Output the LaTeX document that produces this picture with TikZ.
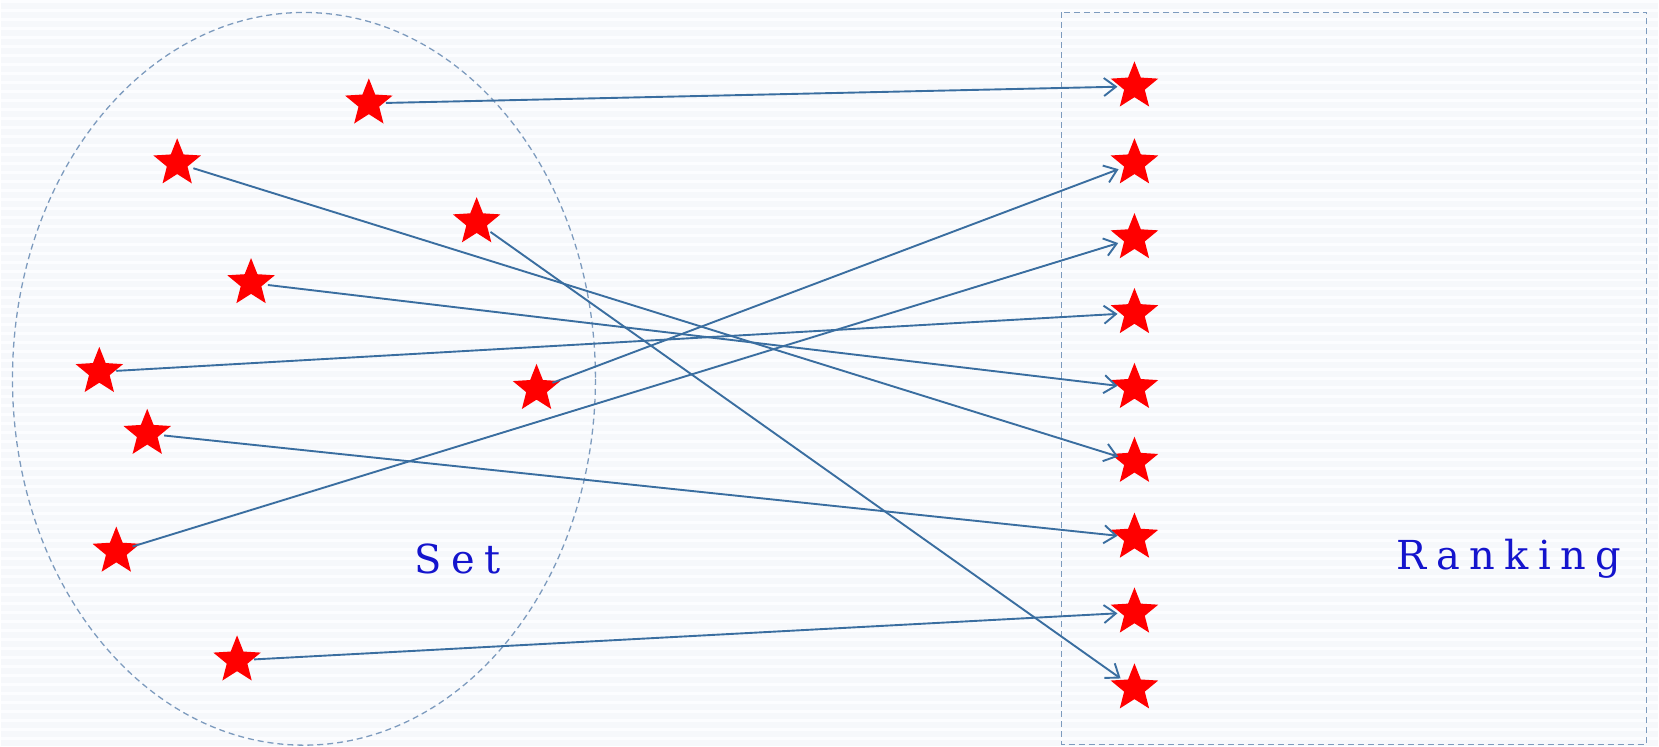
\documentclass[tikz,border=0pt]{standalone}
\usepackage{fontspec}
\setmainfont{DejaVu Serif}
\usetikzlibrary{shapes.geometric,arrows.meta}
\definecolor{bgblue}{RGB}{246,248,251}
\definecolor{stripe}{RGB}{252,253,255}
\definecolor{linkblue}{RGB}{58,110,160}
\definecolor{frameblue}{RGB}{125,155,190}
\definecolor{labelblue}{RGB}{20,20,205}
\tikzset{
  item/.style={star, star points=5, star point ratio=2.3, fill=red, draw=none,
    minimum size=50pt, inner sep=0pt},
  link/.style={draw=linkblue, line width=1.9pt,
    -{Straight Barb[length=12pt,width=18pt,line width=1.9pt]},
    shorten <=17pt, shorten >=17pt},
  frame/.style={draw=frameblue, line width=1.3pt, dash pattern=on 6pt off 4pt},
  caption/.style={text=labelblue, font=\fontsize{40}{40}\selectfont\addfontfeatures{LetterSpace=23}}
}
\begin{document}
\begin{tikzpicture}[x=1pt,y=-1pt]
  % canvas
  \fill[bgblue] (0,0) rectangle (1659,746);
  \foreach \y in {0,9,...,746} \draw[stripe, line width=3pt] (0,\y) -- (1659,\y);
  \useasboundingbox (0,0) rectangle (1659,746);

  % the set and the ranking
  \draw[frame] (303,378) ellipse [x radius=292, y radius=367];
  \draw[frame] (1062,11) rectangle (1648,744);

  % unordered items
  \node[item] (a) at (368,102) {};
  \node[item] (b) at (176,162) {};
  \node[item] (c) at (476,221) {};
  \node[item] (d) at (250,282) {};
  \node[item] (e) at (98,371) {};
  \node[item] (f) at (536,388) {};
  \node[item] (g) at (146,433) {};
  \node[item] (h) at (115,551) {};
  \node[item] (i) at (236,660) {};

  % ranked items
  \foreach \k/\y in {1/85,2/162,3/237,4/312,5/387,6/461,7/537,8/612,9/688}
    \node[item] (r\k) at (1135,\y) {};

  % assignments
  \draw[link] (a.center) -- (r1.center);
  \draw[link] (b.center) -- (r6.center);
  \draw[link] (c.center) -- (r9.center);
  \draw[link] (d.center) -- (r5.center);
  \draw[link] (e.center) -- (r4.center);
  \draw[link] (f.center) -- (r2.center);
  \draw[link] (g.center) -- (r7.center);
  \draw[link] (h.center) -- (r3.center);
  \draw[link] (i.center) -- (r8.center);

  % labels
  \node[caption] (setlabel) at (457,558) {Set};
  \node[caption] (ranklabel) at (1510,558) {Ranking};
\end{tikzpicture}
\end{document}
